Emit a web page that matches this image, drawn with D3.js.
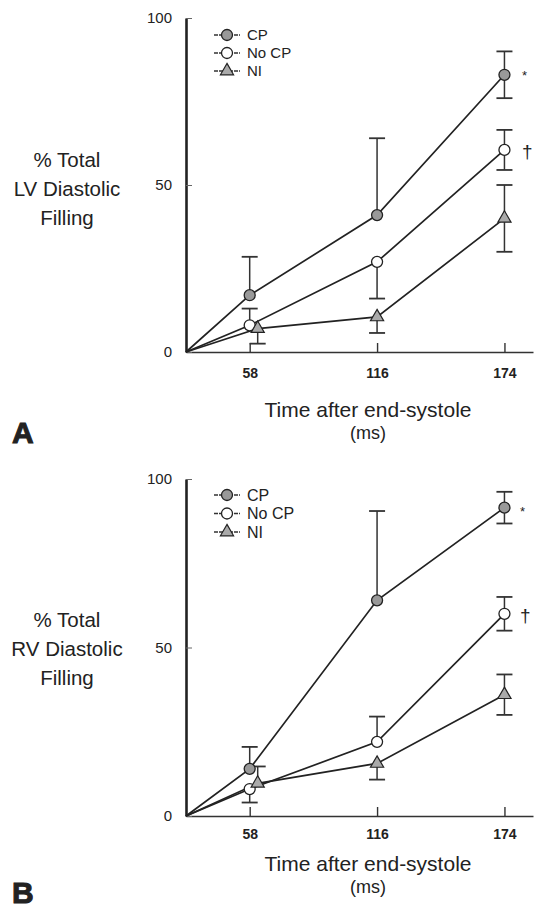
<!DOCTYPE html>
<html>
<head>
<meta charset="utf-8">
<script src="https://cdn.jsdelivr.net/npm/d3@7"></script>
<style>
  body { margin: 0; background: #fff; }
  text { font-family: "Liberation Sans", Arial, sans-serif; fill: #222; }
</style>
</head>
<body>
<svg id="chart" width="535" height="910"></svg>
<script>
// time after end-systole (ms)
const times = [58, 116, 174];
const seriesNames = ["CP", "No CP", "NI"];

// panel A - LV filling (%)
const lvCP = [17, 41, 83];
const lvCPErr = [11.5, 23, 7];
const lvCPDir = ["up", "up", "both"];
const lvNoCP = [8, 27, 60.5];
const lvNoCPErr = [5, 11, 6];
const lvNoCPDir = ["up", "down", "both"];
const lvNI = [7, 10.5, 40];
const lvNIErr = [4.5, 4.8, 10];
const lvNIDir = ["down", "down", "both"];

// panel B - RV filling (%)
const rvCP = [14, 64, 91.5];
const rvCPErr = [6.5, 26.5, 4.7];
const rvCPDir = ["up", "up", "both"];
const rvNoCP = [8, 22, 60];
const rvNoCPErr = [4, 7.5, 5];
const rvNoCPDir = ["down", "up", "both"];
const rvNI = [9.7, 15.6, 36];
const rvNIErr = [5, 4.8, 6];
const rvNIDir = ["up", "down", "both"];

const yTicks = [0, 50, 100];

const svg = d3.select("#chart");

function drawPanel(opt) {
    const g = svg.append("g");

    const x = d3.scaleLinear()
        .domain([29, 187])
        .range([186, 533]);
    const y = d3.scaleLinear()
        .domain([0, 100])
        .range([opt.bottom, opt.top]);

    const series = [
        {name: seriesNames[0], vals: opt.cp, err: opt.cpErr, dir: opt.cpDir},
        {name: seriesNames[1], vals: opt.nocp, err: opt.nocpErr, dir: opt.nocpDir},
        {name: seriesNames[2], vals: opt.ni, err: opt.niErr, dir: opt.niDir}
    ];

    // NI point at 58 ms is nudged right in the original
    const px = (s, i) => x(times[i]) + (s.name === "NI" && i === 0 ? 8 : 0);

    // x axis
    const xAxis = g.append("g")
        .attr("transform", `translate(0,${y(0)})`)
        .call(d3.axisBottom(x).tickValues(times).tickSizeInner(-9).tickSizeOuter(0).tickPadding(opt.xPad));
    xAxis.select(".domain").attr("stroke", "#333").attr("stroke-width", 1.6);
    xAxis.selectAll(".tick line").attr("stroke", "#333").attr("stroke-width", 1.4);
    xAxis.selectAll("text").attr("font-size", 14).attr("font-weight", "bold").attr("fill", "#222");

    // y axis
    const yAxis = g.append("g")
        .attr("transform", `translate(${x(29)},0)`)
        .call(d3.axisLeft(y).tickValues(yTicks).tickSizeInner(-6).tickSizeOuter(0).tickPadding(14));
    yAxis.select(".domain").attr("stroke", "#222").attr("stroke-width", 2.6);
    yAxis.selectAll(".tick line").attr("stroke", "#666").attr("stroke-width", 1);
    yAxis.selectAll("text").attr("font-size", 15).attr("fill", "#222");

    const line = d3.line()
        .x(d => d[0])
        .y(d => d[1]);

    series.forEach(s => {
        const pts = [[x(29), y(0)]].concat(s.vals.map((v, i) => [px(s, i), y(v)]));
        g.append("path")
            .attr("d", line(pts))
            .attr("fill", "none")
            .attr("stroke", "#222")
            .attr("stroke-width", 1.7);
    });

    // error bars
    series.forEach(s => {
        s.vals.forEach((v, i) => {
            const cx = px(s, i);
            const ends = [];
            if (s.dir[i] !== "down") ends.push(v + s.err[i]);
            if (s.dir[i] !== "up") ends.push(v - s.err[i]);
            ends.forEach(e => {
                g.append("line")
                    .attr("x1", cx).attr("x2", cx)
                    .attr("y1", y(v)).attr("y2", y(e))
                    .attr("stroke", "#333").attr("stroke-width", 1.5);
                g.append("line")
                    .attr("x1", cx - 8).attr("x2", cx + 8)
                    .attr("y1", y(e)).attr("y2", y(e))
                    .attr("stroke", "#333").attr("stroke-width", 1.8);
            });
        });
    });

    // markers
    function marker(sel, name) {
        if (name === "CP") {
            sel.append("circle").attr("r", 5.5).attr("fill", "#999").attr("stroke", "#222").attr("stroke-width", 1.3);
        } else if (name === "No CP") {
            sel.append("circle").attr("r", 5.5).attr("fill", "#fff").attr("stroke", "#222").attr("stroke-width", 1.3);
        } else {
            sel.append("path").attr("d", d3.symbol(d3.symbolTriangle, 75)()).attr("fill", "#aaa").attr("stroke", "#222").attr("stroke-width", 1.2);
        }
    }

    series.forEach(s => {
        s.vals.forEach((v, i) => {
            const m = g.append("g").attr("transform", `translate(${px(s, i)},${y(v)})`);
            marker(m, s.name);
        });
    });

    // legend
    series.forEach((s, i) => {
        const ly = opt.legendY + i * opt.legendStep;
        const lg = g.append("g").attr("transform", `translate(214,${ly})`);
        lg.append("line").attr("x1", 0).attr("x2", 26).attr("y1", 0).attr("y2", 0)
            .attr("stroke", "#333").attr("stroke-width", 1.6).attr("stroke-dasharray", "4,1");
        marker(lg.append("g").attr("transform", "translate(13,0)"), s.name);
        lg.append("text").attr("x", 33).attr("y", 0).attr("dy", "0.35em")
            .attr("font-size", opt.legendFont).text(s.name);
    });

    // significance marks
    g.append("text").attr("x", opt.starX).attr("y", y(opt.cp[2]) + opt.starDy)
        .attr("font-size", 13).attr("fill", "#555").text("*");
    g.append("text").attr("x", opt.starX).attr("y", y(opt.nocp[2]) + 8)
        .attr("font-size", 19).attr("fill", "#444").text("†");

    // y title
    const yt = g.append("text").attr("text-anchor", "middle").attr("font-size", 20.5);
    opt.yTitle.forEach((t, i) => {
        yt.append("tspan").attr("x", 67).attr("y", opt.yTitleY + i * 29).text(t);
    });

    // x title
    g.append("text").attr("x", 368).attr("y", y(0) + opt.xTitleDy).attr("text-anchor", "middle")
        .attr("font-size", 21).text("Time after end-systole");
    g.append("text").attr("x", 368).attr("y", y(0) + opt.xTitleDy + 22).attr("text-anchor", "middle")
        .attr("font-size", 18).text("(ms)");

    // panel letter
    g.append("text").attr("x", 12).attr("y", opt.letterY)
        .attr("font-size", 30).attr("font-weight", "bold")
        .attr("fill", "#999").attr("stroke", "#222").attr("stroke-width", 1)
        .text(opt.letter);
}

drawPanel({
    top: 18, bottom: 352, xPad: 16, xTitleDy: 65,
    cp: lvCP, cpErr: lvCPErr, cpDir: lvCPDir,
    nocp: lvNoCP, nocpErr: lvNoCPErr, nocpDir: lvNoCPDir,
    ni: lvNI, niErr: lvNIErr, niDir: lvNIDir,
    legendY: 35, legendStep: 18, legendFont: 15,
    starX: 522, starDy: 5,
    yTitle: ["% Total", "LV Diastolic", "Filling"], yTitleY: 167,
    letter: "A", letterY: 443
});

drawPanel({
    top: 479, bottom: 816, xPad: 13, xTitleDy: 55,
    cp: rvCP, cpErr: rvCPErr, cpDir: rvCPDir,
    nocp: rvNoCP, nocpErr: rvNoCPErr, nocpDir: rvNoCPDir,
    ni: rvNI, niErr: rvNIErr, niDir: rvNIDir,
    legendY: 495, legendStep: 18.5, legendFont: 16,
    starX: 520, starDy: 8,
    yTitle: ["% Total", "RV Diastolic", "Filling"], yTitleY: 627,
    letter: "B", letterY: 903
});
</script>
</body>
</html>
